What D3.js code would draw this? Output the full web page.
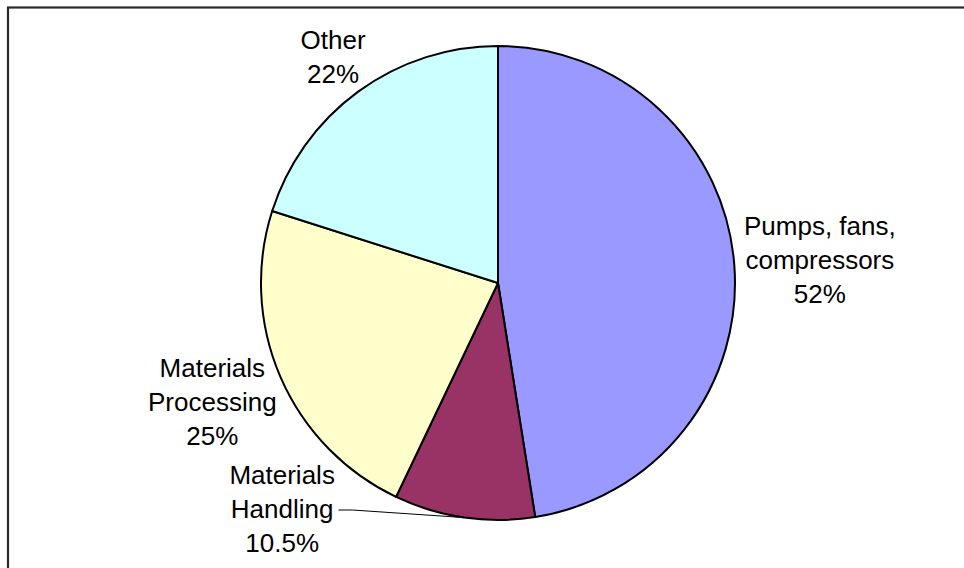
<!DOCTYPE html>
<html>
<head>
<meta charset="utf-8">
<script src="https://cdn.jsdelivr.net/npm/d3@7"></script>
<style>
  html, body { margin: 0; padding: 0; background: #ffffff; }
  svg { display: block; }
</style>
</head>
<body>
<svg id="chart" width="964" height="568"></svg>
<script>
// Share of motor-driven energy use by application
const categories = ["Pumps, fans, compressors", "Materials Handling", "Materials Processing", "Other"];
const categoryLines = [["Pumps, fans,", "compressors"], ["Materials", "Handling"], ["Materials", "Processing"], ["Other"]];
const shares = [52, 10.5, 25, 22];
const sliceColors = ["#9999FF", "#993366", "#FFFFCC", "#CCFFFF"];

const W = 964, H = 568;
const cx = 498, cy = 283, R = 237;
const fontSize = 26, lineH = 34;

const svg = d3.select("#chart");

// chart frame (runs off the right and bottom edges)
svg.append("rect")
  .attr("x", 8).attr("y", 7.5)
  .attr("width", 1000).attr("height", 600)
  .attr("fill", "#ffffff")
  .attr("stroke", "#2a2a2a")
  .attr("stroke-width", 2.2);

const data = categories.map((c, i) => ({ name: c, lines: categoryLines[i], value: shares[i], color: sliceColors[i] }));

const pie = d3.pie().sort(null).value(d => d.value).startAngle(0).endAngle(2 * Math.PI);
const arc = d3.arc().innerRadius(0).outerRadius(R);
const arcs = pie(data);

const g = svg.append("g").attr("transform", `translate(${cx},${cy})`);
g.selectAll("path.slice")
  .data(arcs)
  .join("path")
  .attr("class", "slice")
  .attr("d", arc)
  .attr("fill", d => d.data.color)
  .attr("stroke", "#000000")
  .attr("stroke-width", 2)
  .attr("stroke-linejoin", "round");

// data labels: placed outside each slice at its mid-angle, nudged inside the frame
const labelLayer = svg.append("g")
  .attr("font-family", "'Liberation Sans', Arial, Helvetica, sans-serif")
  .attr("font-size", fontSize)
  .attr("fill", "#000000");

function rectHitsCircle(l, t, r, b, pad) {
  const px = Math.max(l, Math.min(cx, r));
  const py = Math.max(t, Math.min(cy, b));
  return Math.hypot(px - cx, py - cy) < R + pad;
}

arcs.forEach(a => {
  const lines = a.data.lines.concat([`${a.data.value}%`]);
  const grp = labelLayer.append("g");
  const texts = lines.map(s => grp.append("text").attr("text-anchor", "middle").text(s));
  const widths = texts.map(t => t.node().getComputedTextLength());
  const hw = d3.max(widths) / 2;
  const hh = lines.length * lineH / 2;

  const mid = (a.startAngle + a.endAngle) / 2;
  const ux = Math.sin(mid), uy = -Math.cos(mid);
  const ax = cx + (R + 10) * ux, ay = cy + (R + 10) * uy;
  let x = ax + ux * hw, y = ay + uy * hh;

  const x0 = x, y0 = y;
  x = Math.max(8 + 6 + hw, Math.min(W - 6 - hw, x));
  y = Math.max(8 + 6 + hh, Math.min(H - 8 - hh, y));
  let moved = (x !== x0 || y !== y0);
  if (moved) {
    const step = ux < 0 ? -1 : 1;
    while (rectHitsCircle(x - hw, y - hh, x + hw, y + hh, 2)) x += step;
  }

  texts.forEach((t, i) => {
    const lc = y + (i - (lines.length - 1) / 2) * lineH;
    t.attr("x", x).attr("y", lc).attr("dy", "0.36em");
  });

  if (moved) {
    const mi = Math.floor((lines.length - 1) / 2);
    const ly = y + (mi - (lines.length - 1) / 2) * lineH + 1;
    const dir = ux < 0 ? 1 : -1;
    const sx = x + dir * (widths[mi] / 2 + 5);
    const ex = cx + R * ux, ey = cy + R * uy;
    labelLayer.append("path")
      .attr("d", d3.line()([[sx, ly], [sx + dir * 14, ly], [ex, ey]]))
      .attr("fill", "none")
      .attr("stroke", "#000000")
      .attr("stroke-width", 1);
  }
});
</script>
</body>
</html>
